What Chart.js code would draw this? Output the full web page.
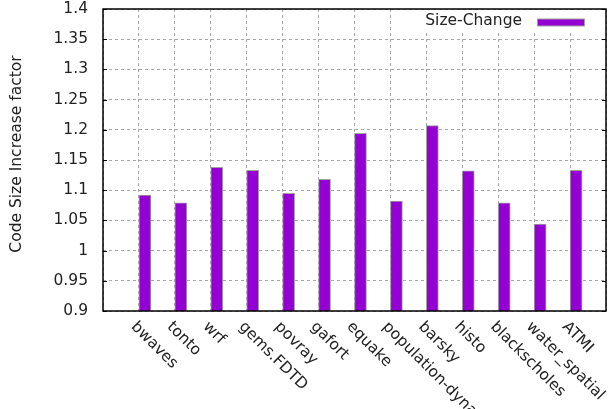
<!DOCTYPE html>
<html>
<head>
<meta charset="utf-8">
<script src="https://cdn.jsdelivr.net/npm/chart.js@4/dist/chart.umd.min.js"></script>
<style>
  body { margin: 0; background: #fff; }
  canvas { display: block; }
</style>
</head>
<body>
<canvas id="grafica" width="612" height="409"></canvas>
<script>
// Datos
const categorias = ['bwaves', 'tonto', 'wrf', 'gems.FDTD', 'povray', 'gafort', 'equake',
  'population-dynamics', 'barsky', 'histo', 'blackscholes', 'water_spatial', 'ATMI'];
const sizeChange = [1.092, 1.079, 1.138, 1.133, 1.095, 1.118, 1.194, 1.082, 1.207, 1.132, 1.079, 1.044, 1.133];
const yTicks = ['0.9', '0.95', '1', '1.05', '1.1', '1.15', '1.2', '1.25', '1.3', '1.35', '1.4'];
const serieNombre = 'Size-Change';
const tituloY = 'Code Size Increase factor';

const fuente = '15.5px "DejaVu Sans"';
const colorTexto = '#222';
const morado = '#9400d3';

// Etiquetas del eje x, titulo, marco, marcas y leyenda al estilo gnuplot
const decorado = {
  id: 'decorado',
  afterDatasetsDraw(chart) {
    const ctx = chart.ctx;
    const area = chart.chartArea;
    const x = chart.scales.x;
    const y = chart.scales.y;

    // Leyenda con fondo blanco
    ctx.save();
    ctx.fillStyle = '#fff';
    ctx.fillRect(410, area.top + 1, area.right - 411, 20);
    ctx.font = fuente;
    ctx.fillStyle = colorTexto;
    ctx.textAlign = 'right';
    ctx.textBaseline = 'middle';
    ctx.fillText(serieNombre, 522, 21);
    ctx.fillStyle = morado;
    ctx.fillRect(537.5, 19, 47, 7);
    ctx.strokeStyle = '#a0a0a0';
    ctx.lineWidth = 1;
    ctx.strokeRect(537.5, 19, 47, 7);
    ctx.restore();

    // Marco
    ctx.save();
    ctx.strokeStyle = '#000';
    ctx.lineWidth = 1.5;
    ctx.strokeRect(area.left, area.top, area.right - area.left, area.bottom - area.top);

    // Marcas hacia dentro en ambos lados
    ctx.lineWidth = 1;
    y.ticks.forEach(function (t) {
      const py = Math.round(y.getPixelForValue(t.value)) + 0.5;
      ctx.beginPath();
      ctx.moveTo(area.left, py);
      ctx.lineTo(area.left + 4, py);
      ctx.moveTo(area.right, py);
      ctx.lineTo(area.right - 4, py);
      ctx.stroke();
    });
    ctx.restore();

    // Titulo del eje y
    ctx.save();
    ctx.font = fuente;
    ctx.fillStyle = colorTexto;
    ctx.textAlign = 'center';
    ctx.textBaseline = 'middle';
    ctx.translate(17, 154);
    ctx.rotate(-Math.PI / 2);
    ctx.fillText(tituloY, 0, 0);
    ctx.restore();

    // Etiquetas giradas del eje x
    ctx.save();
    ctx.font = fuente;
    ctx.fillStyle = colorTexto;
    ctx.textAlign = 'left';
    ctx.textBaseline = 'top';
    categorias.forEach(function (nombre, i) {
      const px = x.getPixelForValue(i);
      ctx.save();
      ctx.translate(px, area.bottom + 8);
      ctx.rotate(Math.PI / 4);
      ctx.fillText(nombre, 0, 0);
      ctx.restore();
    });
    ctx.restore();
  }
};

let canvas = document.getElementById('grafica');

new Chart(canvas, {
  type: 'bar',
  data: {
    datasets: [{
      label: serieNombre,
      data: sizeChange.map(function (v, i) { return { x: i, y: v }; }),
      xAxisID: 'xb',
      yAxisID: 'y',
      backgroundColor: morado,
      borderColor: '#a0a0a0',
      borderWidth: 1,
      barThickness: 12
    }]
  },
  plugins: [decorado],
  options: {
    responsive: false,
    animation: false,
    layout: { padding: { top: 9, right: 6, left: 0, bottom: 0 } },
    plugins: {
      legend: { display: false },
      tooltip: { enabled: false }
    },
    scales: {
      x: {
        type: 'linear',
        position: 'bottom',
        offset: false,
        min: -1,
        max: categorias.length,
        ticks: { stepSize: 1, display: false },
        grid: {
          offset: false,
          color: '#a8a8a8',
          lineWidth: 1,
          drawTicks: false
        },
        border: { display: false, dash: [3, 3] },
        afterFit: function (scale) { scale.height = 98; }
      },
      xb: {
        type: 'linear',
        display: false,
        offset: false,
        grid: { offset: false },
        min: -1 - 1 / 6,
        max: categorias.length - 1 / 6
      },
      y: {
        min: 0.9,
        max: 1.4,
        ticks: {
          stepSize: 0.05,
          padding: 15,
          font: { family: 'DejaVu Sans', size: 15.5 },
          color: colorTexto,
          callback: function (v, i) { return yTicks[i]; }
        },
        grid: {
          color: '#a8a8a8',
          lineWidth: 1,
          drawTicks: false
        },
        border: { display: false, dash: [3, 3] },
        afterFit: function (scale) {
          scale.width = 103;
          scale.paddingTop = 0;
          scale.paddingBottom = 0;
        }
      }
    }
  }
});
</script>
</body>
</html>
